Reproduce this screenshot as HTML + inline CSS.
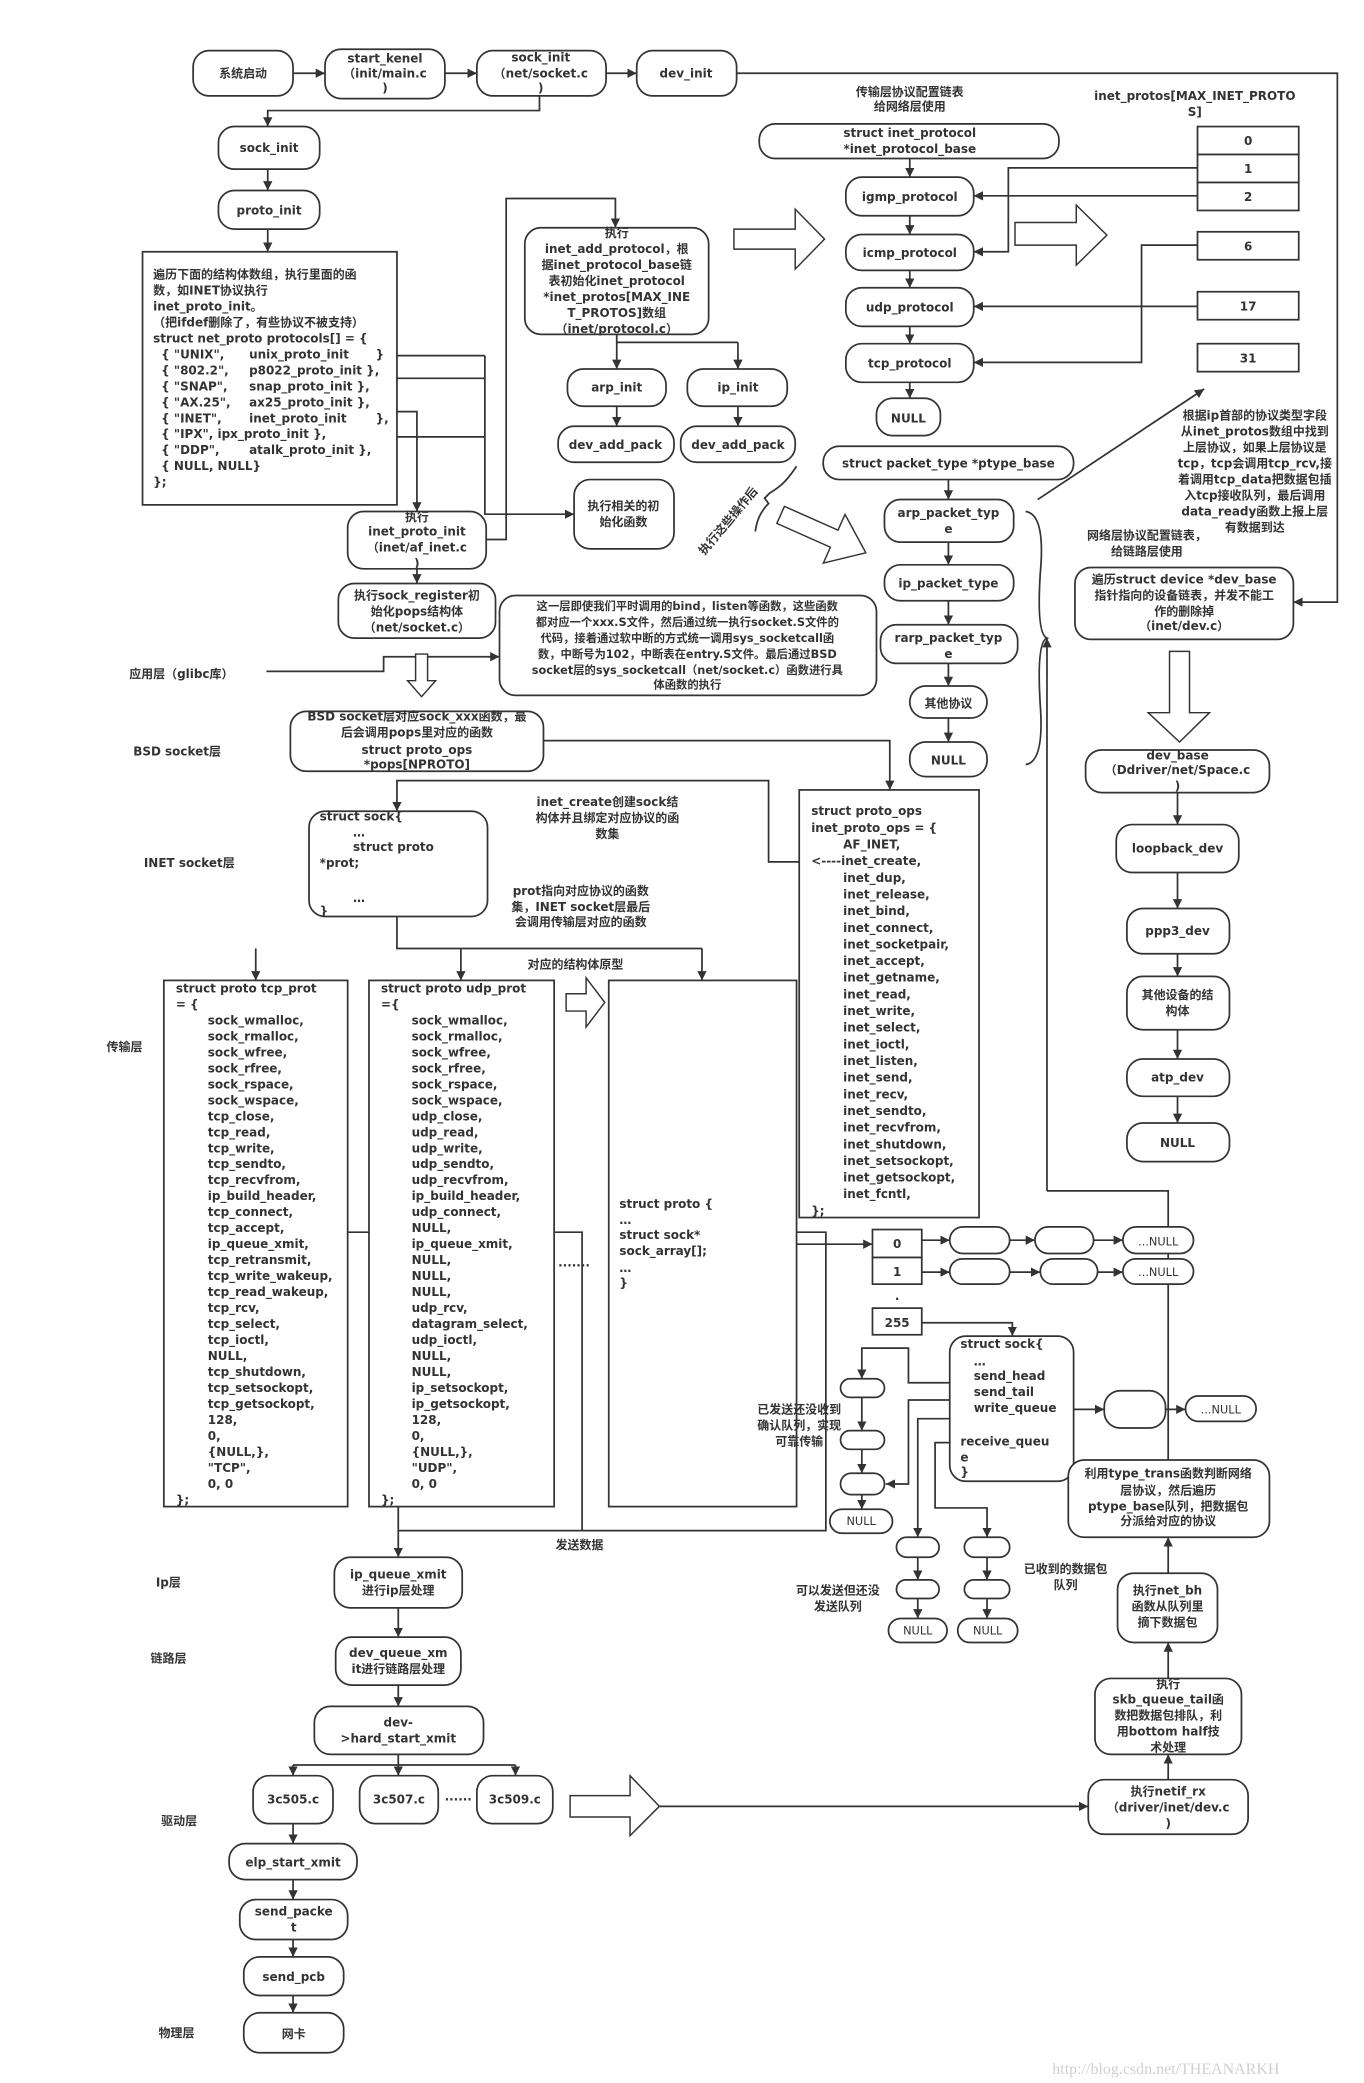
<!DOCTYPE html>
<html><head><meta charset="utf-8"><style>
html,body{margin:0;padding:0;background:#fff}
svg{display:block}
.b{fill:#fff;stroke:#333;stroke-width:1.3}
.l{fill:none;stroke:#333;stroke-width:1.3}
.h{fill:#fff;stroke:#333;stroke-width:1.1}
text{font-family:"DejaVu Sans","Noto Sans CJK SC",sans-serif;font-weight:bold;font-size:9px;fill:#333}
.c{text-anchor:middle}
.n{font-weight:normal;font-size:8.5px}
.s{font-size:8.5px}
</style></head><body>
<svg width="1364" height="2083" viewBox="0 0 1024 1563.7" preserveAspectRatio="none" xmlns="http://www.w3.org/2000/svg">
<defs><marker id="a" viewBox="0 0 10 10" refX="10" refY="5" markerWidth="7" markerHeight="7" markerUnits="userSpaceOnUse" orient="auto"><path d="M0,0 L10,5 L0,10 z" fill="#333"/></marker></defs>
<g marker-end="url(#a)" class="l">
<path d="M220,55H244"/><path d="M334,55H358"/><path d="M455,55H478"/>
<path d="M405,72V83H201V95"/><path d="M201,127V143"/><path d="M201,172V189"/>
<path d="M298,309H313V384"/><path d="M364,267V386H431"/>
<path d="M365,405H380V149H462V171"/>
<path d="M463,257V277"/><path d="M554,257V277"/><path d="M463,305V320"/><path d="M554,305V320"/>
<path d="M313,427V438"/>
<path d="M200,504H288V493H375"/>
<path d="M408,556H668V593"/>
<path d="M600,647H577V586H298V609"/>
<path d="M192,712V736"/><path d="M346,712V736"/><path d="M527,712V736"/>
<path d="M299,925V1169"/>
<path d="M598,934H655"/>
<path d="M692,931H713"/><path d="M758,931H777"/><path d="M821,931H843"/>
<path d="M692,955H713"/><path d="M758,955H781"/><path d="M824,955H843"/>
<path d="M692,993H760V1003"/>
<path d="M806,1058H829"/><path d="M875,1058H890"/>
<path d="M713,1038H682V1012H647V1035"/><path d="M647,1049V1074"/><path d="M647,1088V1106"/><path d="M647,1122V1133"/>
<path d="M713,1051H682V1114H665"/>
<path d="M713,1065H689V1154"/><path d="M689,1169V1186"/><path d="M689,1200V1215"/>
<path d="M713,1083H702V1132H741V1154"/><path d="M741,1169V1186"/><path d="M741,1200V1215"/>
<path d="M786,894V479"/>
<path d="M877,1181V1154"/><path d="M877,1260V1233"/><path d="M877,1336V1317"/>
<path d="M495,1356H817"/>
<path d="M553,55H1004V452H971"/>
<path d="M683,119V133"/><path d="M683,162V176"/><path d="M683,203V216"/><path d="M683,245V258"/><path d="M683,287V299"/>
<path d="M899,126H757V189H731"/><path d="M899,147H731"/><path d="M899,184H857V272H731"/><path d="M899,230H731"/>
<path d="M712,360V375"/><path d="M712,407V424"/><path d="M712,451V469"/><path d="M712,498V515"/><path d="M712,539V557"/>
<path d="M779,375L904,292"/>
<path d="M884,595V619"/><path d="M884,655V682"/><path d="M884,716V733"/><path d="M884,773V795"/><path d="M884,823V843"/>
<path d="M299,1207V1229"/><path d="M299,1265V1281"/>
<path d="M220,1325V1333"/><path d="M299,1317V1333"/><path d="M387,1325V1333"/>
<path d="M220,1369V1384"/><path d="M220,1411V1426"/><path d="M220,1456V1469"/><path d="M220,1498V1511"/>
</g>
<g class="l">
<path d="M298,267H364"/><path d="M298,284H364"/><path d="M298,328H364"/>
<path d="M463,251V257H554"/>
<path d="M298,688V712H527"/>
<path d="M261,925H299"/><path d="M416,925H437V1149"/><path d="M299,1149H620V925H598"/>
<path d="M786,894H877V1096"/>
<path d="M220,1325H387"/>
<path d="M770,384Q785,386 781,430Q778,476 786,479Q778,482 781,530Q784,572 770,574"/>
<path d="M598,350C590,362 585,366 578,370L574,374L577,378C570,385 568,392 567,399"/>
</g>
<!-- hollow arrows -->
<polygon class="h" points="312,491 321,491 321,511 327,511 316.5,523 306,511 312,511"/>
<polygon class="h" points="551,172 597,172 597,157 619,179.5 597,202 597,187 551,187"/>
<polygon class="h" points="762,167 808,167 808,154 831,176.5 808,199 808,184 762,184"/>
<polygon class="h" points="425,746 440,746 440,734 454,752.5 440,771 440,759 425,759"/>
<polygon class="h" points="878,489 893,489 893,535 908,535 885.5,557 862,535 878,535"/>
<polygon class="h" points="428,1348 473,1348 473,1333 495,1356 473,1378 473,1364 428,1364"/>
<polygon class="h" transform="translate(650,415) rotate(24)" points="-70,-7 -26,-7 -26,-20 0,0 -26,20 -26,7 -70,7"/>
<!-- top row -->
<rect class="b" x="145" y="38" width="75" height="34" rx="12"/><text class="c" x="182.5" y="58">系统启动</text>
<rect class="b" x="244" y="37" width="90" height="37" rx="12"/><text class="c" x="289" y="47">start_kenel<tspan x="289" dy="11">（init/main.c</tspan><tspan x="289" dy="11">)</tspan></text>
<rect class="b" x="358" y="38" width="97" height="34" rx="12"/><text class="c" x="406" y="46">sock_init<tspan x="406" dy="12">（net/socket.c</tspan><tspan x="406" dy="11">)</tspan></text>
<rect class="b" x="478" y="38" width="75" height="34" rx="12"/><text class="c" x="515" y="58">dev_init</text>
<rect class="b" x="164" y="95" width="76" height="32" rx="12"/><text class="c" x="202" y="114">sock_init</text>
<rect class="b" x="164" y="143" width="76" height="29" rx="12"/><text class="c" x="202" y="161">proto_init</text>
<rect class="b" x="107" y="189" width="191" height="190"/>
<text x="115" y="209">遍历下面的结构体数组，执行里面的函<tspan x="115" dy="12">数，如INET协议执行</tspan><tspan x="115" dy="12">inet_proto_init。</tspan><tspan x="115" dy="12">（把ifdef删除了，有些协议不被支持）</tspan><tspan x="115" dy="12">struct net_proto protocols[] = {</tspan>
<tspan x="121" dy="12">{ "UNIX",</tspan><tspan x="187">unix_proto_init</tspan><tspan x="282">}</tspan>
<tspan x="121" dy="12">{ "802.2",</tspan><tspan x="187">p8022_proto_init },</tspan>
<tspan x="121" dy="12">{ "SNAP",</tspan><tspan x="187">snap_proto_init },</tspan>
<tspan x="121" dy="12">{ "AX.25",</tspan><tspan x="187">ax25_proto_init },</tspan>
<tspan x="121" dy="12">{ "INET",</tspan><tspan x="187">inet_proto_init</tspan><tspan x="282">},</tspan>
<tspan x="121" dy="12">{ "IPX", ipx_proto_init },</tspan>
<tspan x="121" dy="12">{ "DDP",</tspan><tspan x="187">atalk_proto_init },</tspan>
<tspan x="121" dy="12">{ NULL, NULL}</tspan><tspan x="115" dy="12">};</tspan></text>
<rect class="b" x="261" y="384" width="104" height="43" rx="12"/><text class="c" x="313" y="391">执行<tspan x="313" dy="11">inet_proto_init</tspan><tspan x="313" dy="12">（inet/af_inet.c</tspan><tspan x="313" dy="12">)</tspan></text>
<rect class="b" x="254" y="438" width="118" height="41" rx="12"/><text class="c" x="313" y="450">执行sock_register初<tspan x="313" dy="12">始化pops结构体</tspan><tspan x="313" dy="12">（net/socket.c）</tspan></text>
<rect class="b" x="394" y="171" width="138" height="80" rx="12"/><text class="c" x="463" y="178">执行<tspan x="463" dy="12">inet_add_protocol，根</tspan><tspan x="463" dy="12">据inet_protocol_base链</tspan><tspan x="463" dy="12">表初始化inet_protocol</tspan><tspan x="463" dy="12">*inet_protos[MAX_INE</tspan><tspan x="463" dy="12">T_PROTOS]数组</tspan><tspan x="463" dy="12">（inet/protocol.c）</tspan></text>
<rect class="b" x="426" y="277" width="74" height="28" rx="12"/><text class="c" x="463" y="294">arp_init</text>
<rect class="b" x="516" y="277" width="75" height="28" rx="12"/><text class="c" x="554" y="294">ip_init</text>
<rect class="b" x="419" y="320" width="87" height="27" rx="12"/><text class="c" x="462" y="337">dev_add_pack</text>
<rect class="b" x="511" y="320" width="86" height="27" rx="12"/><text class="c" x="554" y="337">dev_add_pack</text>
<rect class="b" x="431" y="360" width="75" height="52" rx="12"/><text class="c" x="468" y="383">执行相关的初<tspan x="468" dy="12">始化函数</tspan></text>
<text class="c" transform="translate(549,393) rotate(-50)">执行这些操作后</text>
<rect class="b" x="375" y="447" width="283" height="75" rx="12"/>
<text class="c s" x="516" y="458">这一层即使我们平时调用的bind，listen等函数，这些函数<tspan x="516" dy="12">都对应一个xxx.S文件，然后通过统一执行socket.S文件的</tspan><tspan x="516" dy="12">代码，接着通过软中断的方式统一调用sys_socketcall函</tspan><tspan x="516" dy="12">数，中断号为102，中断表在entry.S文件。最后通过BSD</tspan><tspan x="516" dy="12">socket层的sys_socketcall（net/socket.c）函数进行具</tspan><tspan x="516" dy="11">体函数的执行</tspan></text>
<!-- layer labels -->
<text x="97" y="509">应用层（glibc库）</text>
<text x="100" y="567">BSD socket层</text>
<text x="108" y="651">INET socket层</text>
<text x="80" y="789">传输层</text>
<text x="117" y="1191">Ip层</text>
<text x="113" y="1248">链路层</text>
<text x="121" y="1370">驱动层</text>
<text x="119" y="1529">物理层</text>
<rect class="b" x="218" y="534" width="190" height="45" rx="12"/><text class="c" x="313" y="541">BSD socket层对应sock_xxx函数，最<tspan x="313" dy="12">后会调用pops里对应的函数</tspan><tspan x="313" dy="13">struct proto_ops</tspan><tspan x="313" dy="11">*pops[NPROTO]</tspan></text>
<rect class="b" x="600" y="593" width="135" height="321"/>
<text x="609" y="612">struct proto_ops<tspan x="609" dy="12.5">inet_proto_ops = {</tspan><tspan x="633" dy="12.5">AF_INET,</tspan><tspan x="609" dy="12.5">&lt;----inet_create,</tspan><tspan x="633" dy="12.5">inet_dup,</tspan><tspan x="633" dy="12.5">inet_release,</tspan><tspan x="633" dy="12.5">inet_bind,</tspan><tspan x="633" dy="12.5">inet_connect,</tspan><tspan x="633" dy="12.5">inet_socketpair,</tspan><tspan x="633" dy="12.5">inet_accept,</tspan><tspan x="633" dy="12.5">inet_getname,</tspan><tspan x="633" dy="12.5">inet_read,</tspan><tspan x="633" dy="12.5">inet_write,</tspan><tspan x="633" dy="12.5">inet_select,</tspan><tspan x="633" dy="12.5">inet_ioctl,</tspan><tspan x="633" dy="12.5">inet_listen,</tspan><tspan x="633" dy="12.5">inet_send,</tspan><tspan x="633" dy="12.5">inet_recv,</tspan><tspan x="633" dy="12.5">inet_sendto,</tspan><tspan x="633" dy="12.5">inet_recvfrom,</tspan><tspan x="633" dy="12.5">inet_shutdown,</tspan><tspan x="633" dy="12.5">inet_setsockopt,</tspan><tspan x="633" dy="12.5">inet_getsockopt,</tspan><tspan x="633" dy="12.5">inet_fcntl,</tspan><tspan x="609" dy="12.5">};</tspan></text>
<rect class="b" x="232" y="609" width="134" height="79" rx="12"/>
<text x="240" y="616">struct sock{<tspan x="265" dy="12">…</tspan><tspan x="265" dy="11">struct proto</tspan><tspan x="240" dy="12">*prot;</tspan><tspan x="265" dy="26">…</tspan><tspan x="240" dy="10">}</tspan></text>
<text class="c" x="456" y="605">inet_create创建sock结<tspan x="456" dy="12">构体并且绑定对应协议的函</tspan><tspan x="456" dy="12">数集</tspan></text>
<text class="c" x="436" y="672">prot指向对应协议的函数<tspan x="436" dy="12">集，INET socket层最后</tspan><tspan x="436" dy="11">会调用传输层对应的函数</tspan></text>
<text class="c" x="432" y="727">对应的结构体原型</text>
<rect class="b" x="123" y="736" width="138" height="395"/>
<rect class="b" x="277" y="736" width="139" height="395"/>
<rect class="b" x="457" y="736" width="141" height="395"/>
<text x="132" y="745">struct proto tcp_prot<tspan x="132" dy="12">= {</tspan><tspan x="156" dy="12">sock_wmalloc,</tspan><tspan x="156" dy="12">sock_rmalloc,</tspan><tspan x="156" dy="12">sock_wfree,</tspan><tspan x="156" dy="12">sock_rfree,</tspan><tspan x="156" dy="12">sock_rspace,</tspan><tspan x="156" dy="12">sock_wspace,</tspan><tspan x="156" dy="12">tcp_close,</tspan><tspan x="156" dy="12">tcp_read,</tspan><tspan x="156" dy="12">tcp_write,</tspan><tspan x="156" dy="12">tcp_sendto,</tspan><tspan x="156" dy="12">tcp_recvfrom,</tspan><tspan x="156" dy="12">ip_build_header,</tspan><tspan x="156" dy="12">tcp_connect,</tspan><tspan x="156" dy="12">tcp_accept,</tspan><tspan x="156" dy="12">ip_queue_xmit,</tspan><tspan x="156" dy="12">tcp_retransmit,</tspan><tspan x="156" dy="12">tcp_write_wakeup,</tspan><tspan x="156" dy="12">tcp_read_wakeup,</tspan><tspan x="156" dy="12">tcp_rcv,</tspan><tspan x="156" dy="12">tcp_select,</tspan><tspan x="156" dy="12">tcp_ioctl,</tspan><tspan x="156" dy="12">NULL,</tspan><tspan x="156" dy="12">tcp_shutdown,</tspan><tspan x="156" dy="12">tcp_setsockopt,</tspan><tspan x="156" dy="12">tcp_getsockopt,</tspan><tspan x="156" dy="12">128,</tspan><tspan x="156" dy="12">0,</tspan><tspan x="156" dy="12">{NULL,},</tspan><tspan x="156" dy="12">"TCP",</tspan><tspan x="156" dy="12">0, 0</tspan><tspan x="132" dy="12">};</tspan></text>
<text x="286" y="745">struct proto udp_prot<tspan x="286" dy="12">={</tspan><tspan x="309" dy="12">sock_wmalloc,</tspan><tspan x="309" dy="12">sock_rmalloc,</tspan><tspan x="309" dy="12">sock_wfree,</tspan><tspan x="309" dy="12">sock_rfree,</tspan><tspan x="309" dy="12">sock_rspace,</tspan><tspan x="309" dy="12">sock_wspace,</tspan><tspan x="309" dy="12">udp_close,</tspan><tspan x="309" dy="12">udp_read,</tspan><tspan x="309" dy="12">udp_write,</tspan><tspan x="309" dy="12">udp_sendto,</tspan><tspan x="309" dy="12">udp_recvfrom,</tspan><tspan x="309" dy="12">ip_build_header,</tspan><tspan x="309" dy="12">udp_connect,</tspan><tspan x="309" dy="12">NULL,</tspan><tspan x="309" dy="12">ip_queue_xmit,</tspan><tspan x="309" dy="12">NULL,</tspan><tspan x="309" dy="12">NULL,</tspan><tspan x="309" dy="12">NULL,</tspan><tspan x="309" dy="12">udp_rcv,</tspan><tspan x="309" dy="12">datagram_select,</tspan><tspan x="309" dy="12">udp_ioctl,</tspan><tspan x="309" dy="12">NULL,</tspan><tspan x="309" dy="12">NULL,</tspan><tspan x="309" dy="12">ip_setsockopt,</tspan><tspan x="309" dy="12">ip_getsockopt,</tspan><tspan x="309" dy="12">128,</tspan><tspan x="309" dy="12">0,</tspan><tspan x="309" dy="12">{NULL,},</tspan><tspan x="309" dy="12">"UDP",</tspan><tspan x="309" dy="12">0, 0</tspan><tspan x="286" dy="12">};</tspan></text>
<text x="465" y="907">struct proto {<tspan x="465" dy="12">…</tspan><tspan x="465" dy="11">struct sock*</tspan><tspan x="465" dy="12">sock_array[];</tspan><tspan x="465" dy="13">…</tspan><tspan x="465" dy="11">}</tspan></text>
<text x="419" y="953">·······</text>
<text class="c" x="435" y="1163">发送数据</text>
<!-- queues -->
<rect class="b" x="655" y="923" width="37" height="21"/><text class="c" x="673.5" y="937">0</text>
<rect class="b" x="655" y="944" width="37" height="20"/><text class="c" x="673.5" y="958">1</text>
<text class="c" x="673.5" y="976">.</text>
<rect class="b" x="655" y="982" width="37" height="20"/><text class="c" x="673.5" y="996">255</text>
<g class="b">
<rect x="713" y="921" width="45" height="20" rx="10"/><rect x="777" y="921" width="44" height="20" rx="10"/><rect x="843" y="921" width="53" height="20" rx="10"/>
<rect x="713" y="945" width="45" height="19" rx="9.5"/><rect x="781" y="945" width="43" height="19" rx="9.5"/><rect x="843" y="945" width="53" height="19" rx="9.5"/>
<rect x="829" y="1044" width="46" height="28" rx="12"/><rect x="890" y="1048" width="53" height="19" rx="9.5"/>
<rect x="631" y="1035" width="33" height="14" rx="7"/><rect x="631" y="1074" width="33" height="14" rx="7"/><rect x="631" y="1106" width="33" height="16" rx="8"/><rect x="623" y="1133" width="47" height="18" rx="9"/>
<rect x="673" y="1154" width="32" height="15" rx="7.5"/><rect x="673" y="1186" width="32" height="14" rx="7"/><rect x="667" y="1215" width="44" height="18" rx="9"/>
<rect x="724" y="1154" width="34" height="15" rx="7.5"/><rect x="724" y="1186" width="34" height="14" rx="7"/><rect x="719" y="1215" width="45" height="18" rx="9"/>
</g>
<text class="c n" x="869.5" y="935">...NULL</text><text class="c n" x="869.5" y="958">...NULL</text><text class="c n" x="916.5" y="1061">...NULL</text>
<text class="c n" x="646.5" y="1145">NULL</text><text class="c n" x="689" y="1227">NULL</text><text class="c n" x="741.5" y="1227">NULL</text>
<rect class="b" x="713" y="1003" width="93" height="109" rx="12"/>
<text x="721" y="1012">struct sock{<tspan x="731" dy="13">…</tspan><tspan x="731" dy="11">send_head</tspan><tspan x="731" dy="12">send_tail</tspan><tspan x="731" dy="12">write_queue</tspan><tspan x="721" dy="25">receive_queu</tspan><tspan x="721" dy="12">e</tspan><tspan x="721" dy="11">}</tspan></text>
<text class="c" x="600" y="1061">已发送还没收到<tspan x="600" dy="12">确认队列，实现</tspan><tspan x="600" dy="12">可靠传输</tspan></text>
<text class="c" x="629" y="1197">可以发送但还没<tspan x="629" dy="12">发送队列</tspan></text>
<text class="c" x="800" y="1181">已收到的数据包<tspan x="800" dy="12">队列</tspan></text>
<rect class="b" x="802" y="1096" width="151" height="58" rx="12"/><text class="c" x="877" y="1109">利用type_trans函数判断网络<tspan x="877" dy="13">层协议，然后遍历</tspan><tspan x="877" dy="12">ptype_base队列，把数据包</tspan><tspan x="877" dy="11">分派给对应的协议</tspan></text>
<rect class="b" x="839" y="1181" width="75" height="52" rx="12"/><text class="c" x="876.5" y="1197">执行net_bh<tspan x="876.5" dy="12">函数从队列里</tspan><tspan x="876.5" dy="12">摘下数据包</tspan></text>
<rect class="b" x="822" y="1260" width="110" height="57" rx="12"/><text class="c" x="877" y="1267">执行<tspan x="877" dy="12">skb_queue_tail函</tspan><tspan x="877" dy="12">数把数据包排队，利</tspan><tspan x="877" dy="12">用bottom half技</tspan><tspan x="877" dy="12">术处理</tspan></text>
<rect class="b" x="817" y="1336" width="120" height="41" rx="12"/><text class="c" x="877" y="1348">执行netif_rx<tspan x="877" dy="12">（driver/inet/dev.c</tspan><tspan x="877" dy="12">)</tspan></text>
<!-- protocols -->
<text class="c" x="683" y="72">传输层协议配置链表<tspan x="683" dy="11">给网络层使用</tspan></text>
<text class="c" x="897" y="75">inet_protos[MAX_INET_PROTO<tspan x="897" dy="12">S]</tspan></text>
<rect class="b" x="570" y="93" width="225" height="26" rx="12"/><text class="c" x="683" y="103">struct inet_protocol<tspan x="683" dy="12">*inet_protocol_base</tspan></text>
<rect class="b" x="635" y="133" width="96" height="29" rx="12"/><text class="c" x="683" y="151">igmp_protocol</text>
<rect class="b" x="635" y="176" width="96" height="27" rx="12"/><text class="c" x="683" y="193">icmp_protocol</text>
<rect class="b" x="635" y="216" width="96" height="29" rx="12"/><text class="c" x="683" y="234">udp_protocol</text>
<rect class="b" x="635" y="258" width="96" height="29" rx="12"/><text class="c" x="683" y="276">tcp_protocol</text>
<rect class="b" x="658" y="299" width="48" height="28" rx="12"/><text class="c" x="682" y="317">NULL</text>
<g class="b"><rect x="899" y="95" width="76" height="21"/><rect x="899" y="116" width="76" height="21"/><rect x="899" y="137" width="76" height="21"/><rect x="899" y="174" width="76" height="21"/><rect x="899" y="219" width="76" height="21"/><rect x="899" y="258" width="76" height="21"/></g>
<text class="c" x="937" y="109">0</text><text class="c" x="937" y="130">1</text><text class="c" x="937" y="151">2</text><text class="c" x="937" y="188">6</text><text class="c" x="937" y="233">17</text><text class="c" x="937" y="272">31</text>
<rect class="b" x="618" y="335" width="188" height="25" rx="12"/><text class="c" x="712" y="351">struct packet_type *ptype_base</text>
<rect class="b" x="664" y="375" width="97" height="32" rx="12"/><text class="c" x="712" y="388">arp_packet_typ<tspan x="712" dy="12">e</tspan></text>
<rect class="b" x="664" y="424" width="97" height="27" rx="12"/><text class="c" x="712" y="441">ip_packet_type</text>
<rect class="b" x="661" y="469" width="103" height="29" rx="12"/><text class="c" x="712" y="482">rarp_packet_typ<tspan x="712" dy="12">e</tspan></text>
<rect class="b" x="683" y="515" width="58" height="24" rx="12"/><text class="c" x="712" y="531">其他协议</text>
<rect class="b" x="683" y="557" width="58" height="26" rx="12"/><text class="c" x="712" y="574">NULL</text>
<text class="c" x="942" y="315">根据ip首部的协议类型字段<tspan x="942" dy="12">从inet_protos数组中找到</tspan><tspan x="942" dy="12">上层协议，如果上层协议是</tspan><tspan x="942" dy="12">tcp，tcp会调用tcp_rcv,接</tspan><tspan x="942" dy="12">着调用tcp_data把数据包插</tspan><tspan x="942" dy="12">入tcp接收队列，最后调用</tspan><tspan x="942" dy="12">data_ready函数上报上层</tspan><tspan x="942" dy="12">有数据到达</tspan></text>
<text class="c" x="861" y="405">网络层协议配置链表，<tspan x="861" dy="12">给链路层使用</tspan></text>
<rect class="b" x="807" y="426" width="164" height="54" rx="12"/><text class="c" x="889" y="438">遍历struct device *dev_base<tspan x="889" dy="12">指针指向的设备链表，并发不能工</tspan><tspan x="889" dy="12">作的删除掉</tspan><tspan x="889" dy="11">（inet/dev.c）</tspan></text>
<rect class="b" x="815" y="563" width="138" height="32" rx="12"/><text class="c" x="884" y="570">dev_base<tspan x="884" dy="11">（Ddriver/net/Space.c</tspan><tspan x="884" dy="12">)</tspan></text>
<rect class="b" x="838" y="619" width="92" height="36" rx="12"/><text class="c" x="884" y="640">loopback_dev</text>
<rect class="b" x="846" y="682" width="77" height="34" rx="12"/><text class="c" x="884" y="702">ppp3_dev</text>
<rect class="b" x="846" y="733" width="77" height="40" rx="12"/><text class="c" x="884" y="750">其他设备的结<tspan x="884" dy="12">构体</tspan></text>
<rect class="b" x="846" y="795" width="77" height="28" rx="12"/><text class="c" x="884" y="812">atp_dev</text>
<rect class="b" x="846" y="843" width="77" height="29" rx="12"/><text class="c" x="884" y="861">NULL</text>
<!-- bottom send path -->
<rect class="b" x="251" y="1169" width="96" height="38" rx="12"/><text class="c" x="299" y="1185">ip_queue_xmit<tspan x="299" dy="12">进行ip层处理</tspan></text>
<rect class="b" x="252" y="1229" width="94" height="36" rx="12"/><text class="c" x="299" y="1244">dev_queue_xm<tspan x="299" dy="12">it进行链路层处理</tspan></text>
<rect class="b" x="236" y="1281" width="127" height="36" rx="12"/><text class="c" x="299" y="1296">dev-<tspan x="299" dy="12">&gt;hard_start_xmit</tspan></text>
<rect class="b" x="190" y="1333" width="60" height="36" rx="12"/><text class="c" x="220" y="1354">3c505.c</text>
<rect class="b" x="270" y="1333" width="59" height="36" rx="12"/><text class="c" x="299.5" y="1354">3c507.c</text>
<text class="c" x="344" y="1354">······</text>
<rect class="b" x="358" y="1333" width="57" height="36" rx="12"/><text class="c" x="386.5" y="1354">3c509.c</text>
<rect class="b" x="172" y="1384" width="96" height="27" rx="12"/><text class="c" x="220" y="1401">elp_start_xmit</text>
<rect class="b" x="180" y="1426" width="81" height="30" rx="12"/><text class="c" x="220.5" y="1438">send_packe<tspan x="220.5" dy="12">t</tspan></text>
<rect class="b" x="183" y="1469" width="75" height="29" rx="12"/><text class="c" x="220.5" y="1487">send_pcb</text>
<rect class="b" x="183" y="1511" width="75" height="30" rx="12"/><text class="c" x="220.5" y="1530">网卡</text>
<text x="790" y="1557" style="font-family:'Liberation Serif',serif;font-weight:normal;font-size:12px;fill:#d0d0d0">http://blog.csdn.net/THEANARKH</text>
</svg>
</body></html>
